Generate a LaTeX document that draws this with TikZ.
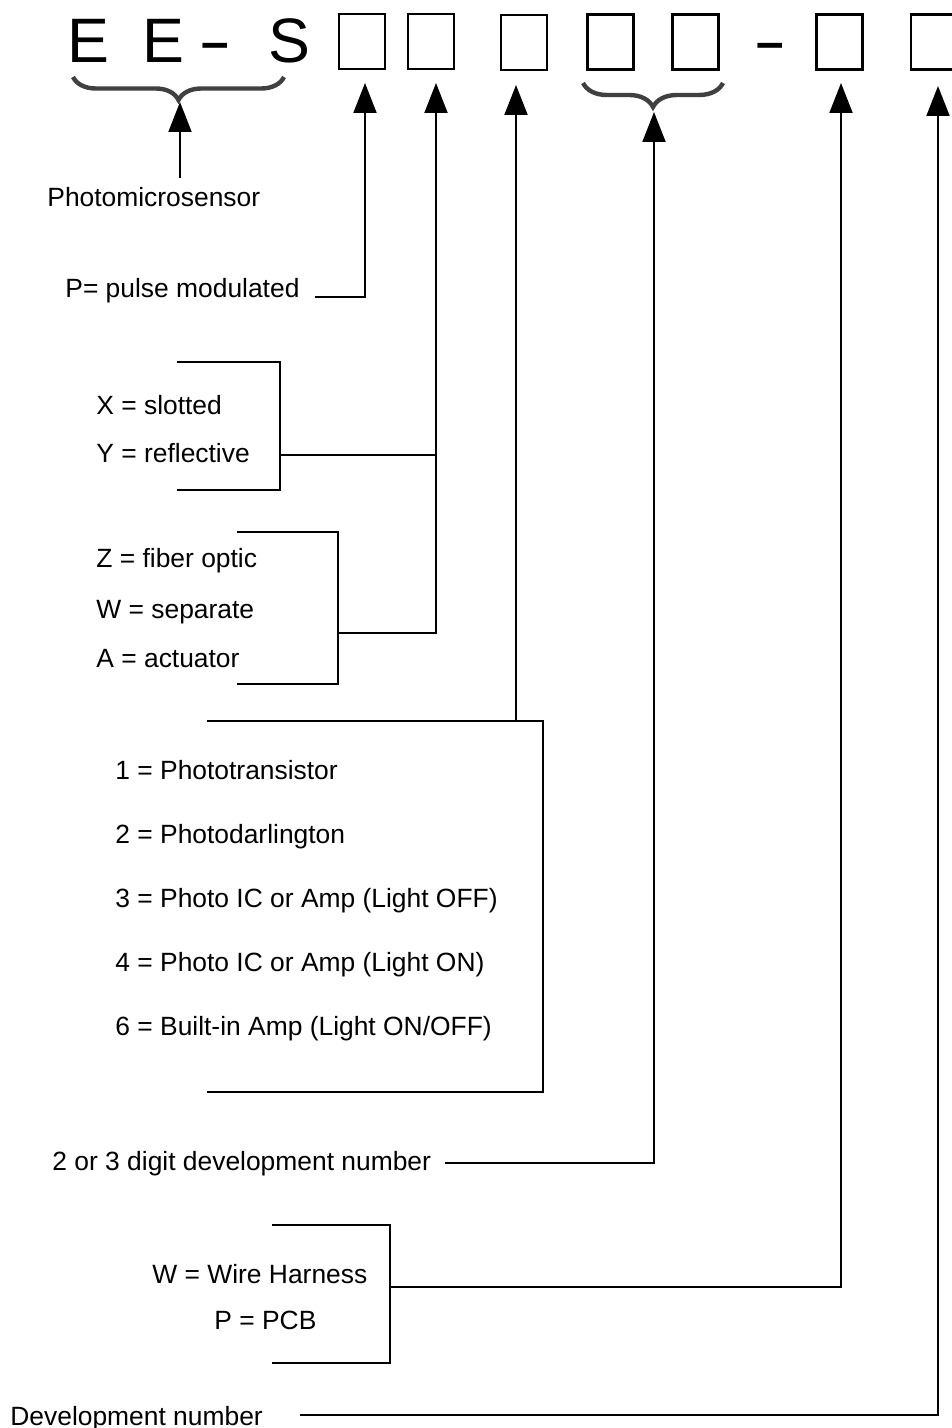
\documentclass[tikz,border=0pt]{standalone}
\usepackage{fontspec}
\setmainfont{Liberation Sans}
\usepackage{graphicx}
\usepackage{tikz}
\usetikzlibrary{arrows.meta,decorations.pathreplacing}
\pgfdeclarelayer{nodelayer}
\pgfdeclarelayer{edgelayer}
\pgfsetlayers{edgelayer,nodelayer,main}
\definecolor{brace gray}{HTML}{404040}
\tikzstyle{code letter}=[font=\fontsize{31.4}{36}\selectfont, inner sep=0, anchor=base]
\tikzstyle{code box}=[draw=black, line width=1.2pt, minimum width=23pt, minimum height=27.5pt, inner sep=0]
\tikzstyle{legend}=[font=\fontsize{13.2}{16}\selectfont, inner sep=0, anchor=base west]
\tikzstyle{up arrow}=[-{Triangle[width=11.5pt,length=15pt]}, line width=1pt]
\tikzstyle{plain edge}=[-, line width=1.1pt]
\tikzstyle{code brace}=[draw=brace gray, line width=2.2pt, decorate, decoration={brace, amplitude=11.5pt}]

\begin{document}
\begin{tikzpicture}[x=0.5pt, y=-0.5pt]
	\useasboundingbox (0, 0) rectangle (952, 1428);
	\begin{pgfonlayer}{nodelayer}
		\node [style=code letter] (0) at (88.5, 63) {E};
		\node [style=code letter] (1) at (163, 63) {E};
		\node [style=code letter] (2) at (215, 63) {\scalebox{1.6}[1]{-}};
		\node [style=code letter] (3) at (289, 63) {S};
		\node [style=code box] (4) at (362, 41.5) {};
		\node [style=code box] (5) at (431, 41.5) {};
		\node [style=code box] (6) at (524, 42.5) {};
		\node [style=code box] (7) at (610.5, 42) {};
		\node [style=code box] (8) at (695.5, 42) {};
		\node [style=code letter] (9) at (770.5, 63) {\scalebox{1.6}[1]{-}};
		\node [style=code box] (10) at (839.5, 42) {};
		\node [style=code box] (11) at (934, 42) {};
		\node [style=legend] (12) at (47, 207) {Photomicrosensor};
		\node [style=legend] (13) at (65, 298) {P= pulse modulated};
		\node [style=legend] (14) at (96, 415) {X = slotted};
		\node [style=legend] (15) at (96, 462) {Y = reflective};
		\node [style=legend] (16) at (96, 567) {Z = fiber optic};
		\node [style=legend] (17) at (96, 618) {W = separate};
		\node [style=legend] (18) at (96, 667) {A = actuator};
		\node [style=legend] (19) at (115, 779) {1 = Phototransistor};
		\node [style=legend] (20) at (115, 843) {2 = Photodarlington};
		\node [style=legend] (21) at (115, 907) {3 = Photo IC or Amp (Light OFF)};
		\node [style=legend] (22) at (115, 971) {4 = Photo IC or Amp (Light ON)};
		\node [style=legend] (23) at (115, 1035) {6 = Built-in Amp (Light ON/OFF)};
		\node [style=legend] (24) at (52, 1170) {2 or 3 digit development number};
		\node [style=legend] (25) at (152, 1283) {W = Wire Harness};
		\node [style=legend] (26) at (214, 1329) {P = PCB};
		\node [style=legend] (27) at (10, 1425) {Development number};
		\node (28) at (73, 77) {};
		\node (29) at (284, 77) {};
		\node (30) at (583, 83) {};
		\node (31) at (723, 83) {};
		\node (32) at (180, 178) {};
		\node (33) at (180, 102) {};
		\node (34) at (315, 297) {};
		\node (35) at (365, 297) {};
		\node (36) at (365, 83) {};
		\node (37) at (177, 362) {};
		\node (38) at (280, 362) {};
		\node (39) at (280, 490) {};
		\node (40) at (177, 490) {};
		\node (41) at (280, 455) {};
		\node (42) at (436, 455) {};
		\node (43) at (237, 532) {};
		\node (44) at (338, 532) {};
		\node (45) at (338, 684) {};
		\node (46) at (237, 684) {};
		\node (47) at (338, 633) {};
		\node (48) at (436, 633) {};
		\node (49) at (436, 83) {};
		\node (50) at (207, 721) {};
		\node (51) at (543, 721) {};
		\node (52) at (543, 1092) {};
		\node (53) at (207, 1092) {};
		\node (54) at (516, 721) {};
		\node (55) at (516, 85) {};
		\node (56) at (445, 1163) {};
		\node (57) at (654, 1163) {};
		\node (58) at (654, 112) {};
		\node (59) at (272, 1225) {};
		\node (60) at (390, 1225) {};
		\node (61) at (390, 1363) {};
		\node (62) at (272, 1363) {};
		\node (63) at (390, 1287) {};
		\node (64) at (841, 1287) {};
		\node (65) at (841, 83) {};
		\node (66) at (300, 1415) {};
		\node (67) at (938, 1415) {};
		\node (68) at (938, 86) {};
	\end{pgfonlayer}
	\begin{pgfonlayer}{edgelayer}
		\draw [style=code brace] (29.center) to (28.center);
		\draw [style=code brace, decoration={brace, amplitude=12pt}] (31.center) to (30.center);
		\draw [style=up arrow] (32.center) to (33.center);
		\draw [style=up arrow] (34.center) to (35.center) to (36.center);
		\draw [style=plain edge] (37.center) to (38.center) to (39.center) to (40.center);
		\draw [style=plain edge] (41.center) to (42.center);
		\draw [style=plain edge] (43.center) to (44.center) to (45.center) to (46.center);
		\draw [style=up arrow] (47.center) to (48.center) to (49.center);
		\draw [style=plain edge] (50.center) to (51.center) to (52.center) to (53.center);
		\draw [style=up arrow] (54.center) to (55.center);
		\draw [style=up arrow] (56.center) to (57.center) to (58.center);
		\draw [style=plain edge] (59.center) to (60.center) to (61.center) to (62.center);
		\draw [style=up arrow] (63.center) to (64.center) to (65.center);
		\draw [style=up arrow] (66.center) to (67.center) to (68.center);
	\end{pgfonlayer}
\end{tikzpicture}
\end{document}
